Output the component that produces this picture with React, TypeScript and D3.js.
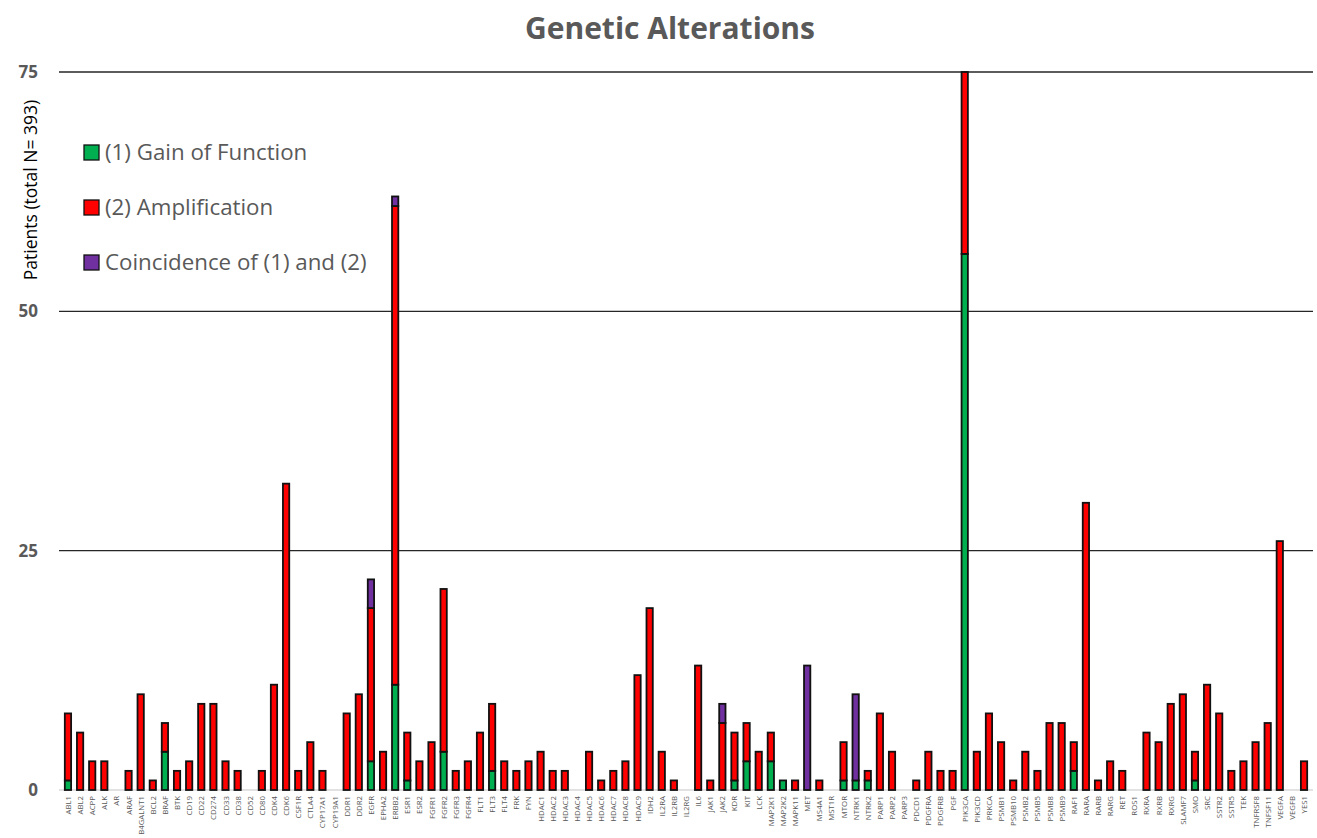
import React, { useRef, useEffect } from "react";
import * as d3 from "d3";

// gene names along the x axis
const genes = [
  "ABL1", "ABL2", "ACPP", "ALK", "AR", "ARAF", "B4GALNT1", "BCL2", "BRAF", "BTK",
  "CD19", "CD22", "CD274", "CD33", "CD38", "CD52", "CD80", "CDK4", "CDK6", "CSF1R",
  "CTLA4", "CYP17A1", "CYP19A1", "DDR1", "DDR2", "EGFR", "EPHA2", "ERBB2", "ESR1", "ESR2",
  "FGFR1", "FGFR2", "FGFR3", "FGFR4", "FLT1", "FLT3", "FLT4", "FRK", "FYN", "HDAC1",
  "HDAC2", "HDAC3", "HDAC4", "HDAC5", "HDAC6", "HDAC7", "HDAC8", "HDAC9", "IDH2", "IL2RA",
  "IL2RB", "IL2RG", "IL6", "JAK1", "JAK2", "KDR", "KIT", "LCK", "MAP2K1", "MAP2K2",
  "MAPK11", "MET", "MS4A1", "MST1R", "MTOR", "NTRK1", "NTRK2", "PARP1", "PARP2", "PARP3",
  "PDCD1", "PDGFRA", "PDGFRB", "PGF", "PIK3CA", "PIK3CD", "PRKCA", "PSMB1", "PSMB10", "PSMB2",
  "PSMB5", "PSMB8", "PSMB9", "RAF1", "RARA", "RARB", "RARG", "RET", "ROS1", "RXRA",
  "RXRB", "RXRG", "SLAMF7", "SMO", "SRC", "SSTR2", "SSTR5", "TEK", "TNFRSF8", "TNFSF11",
  "VEGFA", "VEGFB", "YES1",
];

// (1) gain of function
const gain = [
  1, 0, 0, 0, 0, 0, 0, 0, 4, 0,
  0, 0, 0, 0, 0, 0, 0, 0, 0, 0,
  0, 0, 0, 0, 0, 3, 0, 11, 1, 0,
  0, 4, 0, 0, 0, 2, 0, 0, 0, 0,
  0, 0, 0, 0, 0, 0, 0, 0, 0, 0,
  0, 0, 0, 0, 0, 1, 3, 0, 3, 1,
  0, 0, 0, 0, 1, 1, 1, 0, 0, 0,
  0, 0, 0, 0, 56, 0, 0, 0, 0, 0,
  0, 0, 0, 2, 0, 0, 0, 0, 0, 0,
  0, 0, 0, 1, 0, 0, 0, 0, 0, 0,
  0, 0, 0,
];

// (2) amplification
const amplification = [
  7, 6, 3, 3, 0, 2, 10, 1, 3, 2,
  3, 9, 9, 3, 2, 0, 2, 11, 32, 2,
  5, 2, 0, 8, 10, 16, 4, 50, 5, 3,
  5, 17, 2, 3, 6, 7, 3, 2, 3, 4,
  2, 2, 0, 4, 1, 2, 3, 12, 19, 4,
  1, 0, 13, 1, 7, 5, 4, 4, 3, 0,
  1, 0, 1, 0, 4, 0, 1, 8, 4, 0,
  1, 4, 2, 2, 19, 4, 8, 5, 1, 4,
  2, 7, 7, 3, 30, 1, 3, 2, 0, 6,
  5, 9, 10, 3, 11, 8, 2, 3, 5, 7,
  26, 0, 3,
];

// coincidence of (1) and (2)
const coincidence = [
  0, 0, 0, 0, 0, 0, 0, 0, 0, 0,
  0, 0, 0, 0, 0, 0, 0, 0, 0, 0,
  0, 0, 0, 0, 0, 3, 0, 1, 0, 0,
  0, 0, 0, 0, 0, 0, 0, 0, 0, 0,
  0, 0, 0, 0, 0, 0, 0, 0, 0, 0,
  0, 0, 0, 0, 2, 0, 0, 0, 0, 0,
  0, 13, 0, 0, 0, 9, 0, 0, 0, 0,
  0, 0, 0, 0, 0, 0, 0, 0, 0, 0,
  0, 0, 0, 0, 0, 0, 0, 0, 0, 0,
  0, 0, 0, 0, 0, 0, 0, 0, 0, 0,
  0, 0, 0,
];

const yTicks = [0, 25, 50, 75];

const keys = ["gain", "amp", "coin"];
const colors = { gain: "#00B050", amp: "#FF0000", coin: "#7030A0" };
const legendLabels = ["(1) Gain of Function", "(2) Amplification", "Coincidence of (1) and (2)"];

const FONT = "'Open Sans', 'Liberation Sans', sans-serif";

const App = () => {
  const container = useRef(null);

  const width = 1317;
  const height = 838;
  const left = 59;
  const right = 1313;
  const top = 72;
  const bottom = 790;

  useEffect(() => {
    const svg = d3.select(container.current);
    svg.selectAll("*").remove();

    const rows = genes.map((g, i) => ({
      gene: g,
      gain: gain[i],
      amp: amplification[i],
      coin: coincidence[i],
    }));

    const xScale = d3.scaleBand().domain(genes).range([left, right]).padding(0.48);
    const yScale = d3.scaleLinear().domain([0, 75]).range([bottom, top]);

    // title
    svg
      .append("text")
      .attr("x", 670)
      .attr("y", 39)
      .attr("text-anchor", "middle")
      .style("font-family", FONT)
      .style("font-weight", "bold")
      .style("font-size", "30px")
      .style("fill", "#595959")
      .text("Genetic Alterations");

    // gridlines
    svg
      .append("g")
      .selectAll("line")
      .data(yTicks)
      .enter()
      .append("line")
      .attr("x1", left)
      .attr("x2", right)
      .attr("y1", (d) => yScale(d))
      .attr("y2", (d) => yScale(d))
      .attr("stroke", (d) => (d === 0 ? "#d9d9d9" : "#262626"))
      .attr("stroke-width", 1.3);

    // y tick labels
    svg
      .append("g")
      .selectAll("text")
      .data(yTicks)
      .enter()
      .append("text")
      .attr("x", 38)
      .attr("y", (d) => yScale(d) + 6)
      .attr("text-anchor", "end")
      .style("font-family", FONT)
      .style("font-weight", "bold")
      .style("font-size", "17px")
      .style("fill", "#595959")
      .text((d) => d);

    // y axis title
    svg
      .append("text")
      .attr("transform", `translate(37, 190) rotate(-90)`)
      .attr("text-anchor", "middle")
      .style("font-family", FONT)
      .style("font-size", "17.5px")
      .style("fill", "#000")
      .text("Patients (total N= 393)");

    // stacked bars
    const stackedData = d3.stack().keys(keys)(rows);
    svg
      .append("g")
      .selectAll("g")
      .data(stackedData)
      .enter()
      .append("g")
      .attr("fill", (d) => colors[d.key])
      .selectAll("rect")
      .data((d) => d.filter((s) => s[1] - s[0] > 0))
      .enter()
      .append("rect")
      .attr("x", (d) => xScale(d.data.gene))
      .attr("y", (d) => yScale(d[1]))
      .attr("height", (d) => yScale(d[0]) - yScale(d[1]))
      .attr("width", xScale.bandwidth())
      .attr("stroke", "#111")
      .attr("stroke-width", 1.8);

    // x labels
    svg
      .append("g")
      .selectAll("text")
      .data(genes)
      .enter()
      .append("text")
      .attr(
        "transform",
        (d) => `translate(${xScale(d) + xScale.bandwidth() / 2 + 3}, 796) rotate(-90)`
      )
      .attr("text-anchor", "end")
      .style("font-family", FONT)
      .style("font-size", "7.8px")
      .style("fill", "#595959")
      .text((d) => d);

    // legend
    const legend = svg.append("g").attr("transform", "translate(84, 145)");
    legend
      .selectAll("rect")
      .data(keys)
      .enter()
      .append("rect")
      .attr("x", 0)
      .attr("y", (d, i) => i * 55)
      .attr("width", 15)
      .attr("height", 15)
      .attr("fill", (d) => colors[d])
      .attr("stroke", "#111")
      .attr("stroke-width", 1.3);
    legend
      .selectAll("text")
      .data(legendLabels)
      .enter()
      .append("text")
      .attr("x", 21)
      .attr("y", (d, i) => i * 55 + 15)
      .style("font-family", FONT)
      .style("font-size", "22.3px")
      .style("fill", "#595959")
      .text((d) => d);
  }, []);

  return (
    <svg
      ref={container}
      width={width}
      height={height}
      style={{ position: "absolute", left: 0, top: 0, background: "#fff" }}
    />
  );
};

export default App;
